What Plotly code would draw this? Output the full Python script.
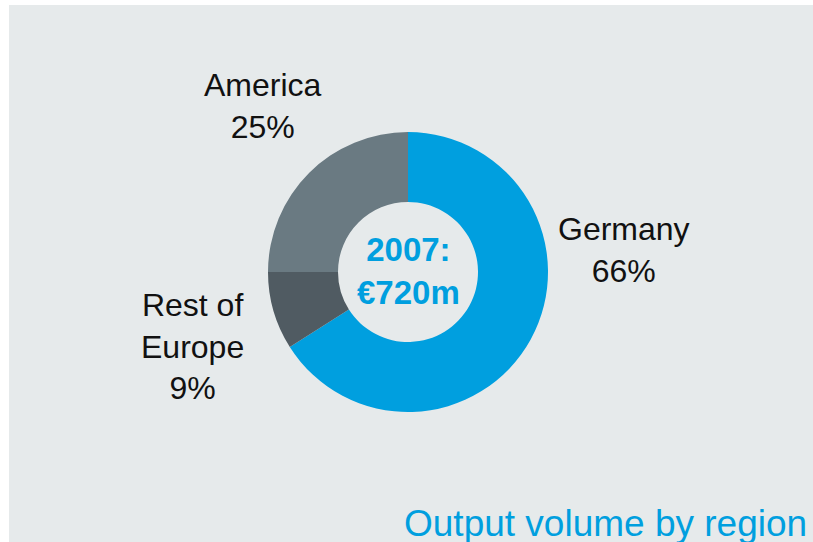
import plotly.graph_objects as go

W, H = 813, 542

regions = ["Germany", "Rest of Europe", "America"]
shares = [66, 9, 25]
label_texts = ["Germany<br>66%", "Rest of<br>Europe<br>9%", "America<br>25%"]
slice_colors = ["#009FDF", "#505B62", "#6A7A82"]
center_text = "2007:<br>€720m"
caption = "Output volume by region"

def px(x):
    return x / W

def py(y):
    return 1 - y / H

fig = go.Figure()
fig.add_trace(go.Pie(
    labels=regions,
    values=shares,
    hole=0.5,
    sort=False,
    direction="clockwise",
    rotation=0,
    textinfo="none",
    hoverinfo="label+percent",
    marker=dict(colors=slice_colors, line=dict(width=0)),
    domain=dict(x=[px(268), px(548)], y=[py(412), py(132)]),
    showlegend=False,
))

label_pos = [(624, 250), (192, 346), (263, 106)]
anns = []
for t, (x, y) in zip(label_texts, label_pos):
    anns.append(dict(text=t, x=px(x), y=py(y), xref="paper", yref="paper",
                     xanchor="center", yanchor="middle", showarrow=False,
                     font=dict(family="Liberation Sans, Arial", size=32, color="#111111"),
                     align="center"))
anns.append(dict(text="<b>" + center_text + "</b>", x=px(409), y=py(271), xref="paper", yref="paper",
                 xanchor="center", yanchor="middle", showarrow=False,
                 font=dict(family="Liberation Sans, Arial", size=33, color="#009FDF"),
                 align="center"))
anns.append(dict(text=caption, x=px(809), y=py(546), xref="paper", yref="paper",
                 xanchor="right", yanchor="bottom", showarrow=False,
                 font=dict(family="Liberation Sans, Arial", size=37, color="#009FDF")))

fig.update_layout(
    width=W, height=H,
    margin=dict(l=0, r=0, t=0, b=0),
    paper_bgcolor="white",
    plot_bgcolor="white",
    annotations=anns,
    shapes=[dict(type="rect", xref="paper", yref="paper", x0=px(9), x1=1, y0=0, y1=py(5),
                 fillcolor="#E6EAEB", line=dict(width=0), layer="below")],
)

fig.write_html("out.html",
               config={"displayModeBar": False},
               post_script="document.body.style.margin='0';document.body.style.overflow='hidden';")
